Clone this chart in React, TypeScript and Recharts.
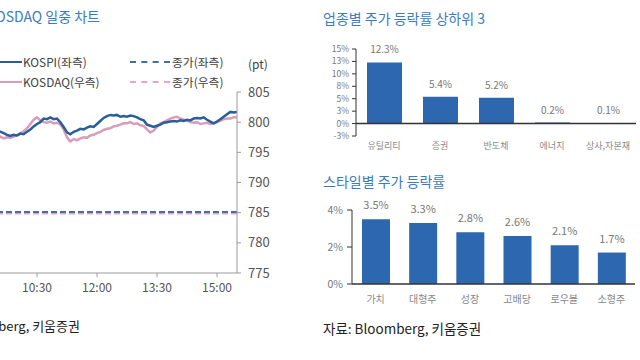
import { LineChart, Line, XAxis, YAxis, ReferenceLine, BarChart, Bar, LabelList } from "recharts";

// intraday, 5-minute steps from 09:00 to 15:30 (right-axis units)
const kospi = [
  797.0, 797.6, 798.2, 798.0, 798.6, 798.9, 798.5, 798.4, 798.2, 797.9,
  797.7, 797.9, 797.8, 798.1, 798.0, 798.4, 798.8, 799.3, 799.7, 800.0,
  800.6, 800.5, 800.8, 800.5, 800.6, 800.0, 799.2, 798.3, 798.0, 798.4,
  798.6, 798.9, 798.8, 799.1, 799.3, 799.2, 799.7, 800.2, 800.7, 801.0,
  801.2, 801.1, 801.2, 800.9, 801.0, 800.9, 801.1, 801.0, 800.8, 800.5,
  800.3, 799.6, 799.4, 799.2, 799.4, 799.6, 799.9, 800.0, 800.1, 800.2,
  800.1, 800.3, 800.2, 800.4, 800.3, 800.6, 800.7, 800.6, 800.8, 800.4,
  800.1, 799.8, 800.1, 800.5, 800.9, 801.3, 801.7, 801.6, 801.7,
];
const kosdaq = [
  796.5, 797.0, 797.8, 797.6, 798.0, 798.3, 797.9, 797.6, 797.3, 797.5,
  797.4, 797.6, 797.8, 798.1, 798.5, 799.0, 799.7, 800.4, 800.8, 800.3,
  800.0, 799.9, 800.1, 799.8, 799.9, 799.6, 798.8, 797.5, 796.8, 797.2,
  797.0, 797.3, 797.5, 797.4, 797.8, 797.9, 798.2, 798.4, 798.7, 798.9,
  799.0, 799.3, 799.4, 799.6, 799.8, 799.8, 800.0, 799.7, 799.8, 799.5,
  799.4, 798.8, 798.3, 798.6, 799.2, 799.8, 800.0, 800.3, 800.6, 800.8,
  800.9, 800.6, 800.4, 800.3, 800.0, 799.9, 800.0, 799.7, 799.8, 799.9,
  799.7, 799.8, 800.0, 800.2, 800.5, 800.6, 800.6, 800.8, 800.8,
];
const kospiClose = 785.1;
const kosdaqClose = 784.9;
const rightTicks = [775, 780, 785, 790, 795, 800, 805];
const timeTicks = ["10:30", "12:00", "13:30", "15:00"];

const sectorNames = ["유틸리티", "증권", "반도체", "에너지", "상사,자본재"];
const sectorValues = [12.3, 5.4, 5.2, 0.2, 0.1];
const sectorTicks = [-2.5, 0, 2.5, 5, 7.5, 10, 12.5, 15];

const styleNames = ["가치", "대형주", "성장", "고배당", "로우볼", "소형주"];
const styleValues = [3.5, 3.3, 2.8, 2.6, 2.1, 1.7];
const styleTicks = [0, 2, 4];

const timeLabel = (i: number) => {
  const m = 540 + i * 5;
  return `${Math.floor(m / 60)}:${String(m % 60).padStart(2, "0")}`;
};
const lineData = kospi.map((v, i) => ({ time: timeLabel(i), kospi: v, kosdaq: kosdaq[i] }));
const sectorData = sectorNames.map((name, i) => ({ name, value: sectorValues[i] }));
const styleData = styleNames.map((name, i) => ({ name, value: styleValues[i] }));

const BLUE = "#2a5d9b";
const PINK = "#d99cb9";
const TITLE = "#3b7cc0";
const BAR = "#2d67b0";
const FONT = '"Noto Sans CJK KR", "Noto Sans", sans-serif';

const pct1 = (v: any) => `${Number(v).toFixed(1)}%`;

export default function App() {
  return (
    <div
      style={{
        position: "fixed",
        left: 0,
        top: 0,
        width: 640,
        height: 360,
        overflow: "hidden",
        background: "#fff",
        fontFamily: FONT,
        color: "#404040",
      }}
    >
      {/* left: intraday chart, cut off on the left side */}
      <div style={{ position: "absolute", left: -300, top: 6, width: 400, textAlign: "right", fontSize: 14, color: TITLE }}>
        KOSPI, KOSDAQ 일중 차트
      </div>

      <div style={{ position: "absolute", left: -20, top: 61, width: 42, borderTop: `2.5px solid ${BLUE}` }} />
      <div style={{ position: "absolute", left: 23, top: 53, fontSize: 11.8 }}>KOSPI(좌측)</div>
      <div style={{ position: "absolute", left: 130, top: 61, width: 40, borderTop: `2.5px dashed #3f6ea8` }} />
      <div style={{ position: "absolute", left: 172, top: 53, fontSize: 11.8 }}>종가(좌측)</div>
      <div style={{ position: "absolute", left: 248, top: 55, fontSize: 12 }}>(pt)</div>

      <div style={{ position: "absolute", left: -20, top: 81, width: 42, borderTop: `2.5px solid ${PINK}` }} />
      <div style={{ position: "absolute", left: 23, top: 73, fontSize: 11.8 }}>KOSDAQ(우측)</div>
      <div style={{ position: "absolute", left: 130, top: 81, width: 40, borderTop: `2.5px dashed #e4a8c5` }} />
      <div style={{ position: "absolute", left: 172, top: 73, fontSize: 11.8 }}>종가(우측)</div>

      <div style={{ position: "absolute", left: -40, top: 0 }}>
        <LineChart width={320} height={303} data={lineData} margin={{ top: 92, right: 3, left: 17, bottom: 0 }}>
          <XAxis
            dataKey="time"
            ticks={timeTicks}
            interval={0}
            height={30}
            tickSize={4}
            tickMargin={6}
            tick={{ fontSize: 12, fill: "#555" }}
            axisLine={{ stroke: "#9a9a9a" }}
            tickLine={{ stroke: "#9a9a9a" }}
          />
          <YAxis
            orientation="right"
            width={40}
            domain={[775, 805]}
            ticks={rightTicks}
            interval={0}
            tickSize={4}
            tickMargin={7}
            tick={{ fontSize: 13, fill: "#555", textAnchor: "start" }}
            axisLine={{ stroke: "#9a9a9a" }}
            tickLine={{ stroke: "#9a9a9a" }}
          />
          <ReferenceLine y={kosdaqClose} stroke="#e4a8c5" strokeWidth={2.5} strokeDasharray="6 3" />
          <ReferenceLine y={kospiClose} stroke="#3f6ea8" strokeWidth={2} strokeDasharray="6 3" />
          <Line dataKey="kosdaq" stroke={PINK} strokeWidth={2.5} dot={false} isAnimationActive={false} />
          <Line dataKey="kospi" stroke={BLUE} strokeWidth={2.5} dot={false} isAnimationActive={false} />
        </LineChart>
      </div>

      <div style={{ position: "absolute", left: -300, top: 316, width: 380, textAlign: "right", fontSize: 13, color: "#222" }}>
        자료: Bloomberg, 키움증권
      </div>

      {/* right top: sector returns */}
      <div style={{ position: "absolute", left: 323, top: 8, fontSize: 14, color: TITLE }}>업종별 주가 등락률 상하위 3</div>
      <div style={{ position: "absolute", left: 300, top: 0 }}>
        <BarChart width={340} height={161} data={sectorData} margin={{ top: 49, right: 4, left: 16, bottom: 0 }}>
          <XAxis
            dataKey="name"
            height={25}
            axisLine={false}
            tickLine={false}
            tickSize={0}
            tickMargin={7}
            tick={{ fontSize: 9, fill: "#888" }}
          />
          <YAxis
            width={40}
            domain={[-2.5, 15]}
            ticks={sectorTicks}
            interval={0}
            tickFormatter={(v: number) => `${v.toFixed(0)}%`}
            tickSize={4}
            tickMargin={3}
            tick={{ fontSize: 8.5, fill: "#777" }}
            axisLine={{ stroke: "#333" }}
            tickLine={{ stroke: "#333" }}
          />
          <ReferenceLine y={0} stroke="#333" strokeWidth={1.5} />
          <Bar dataKey="value" fill={BAR} barSize={35} isAnimationActive={false}>
            <LabelList dataKey="value" position="top" offset={9} formatter={pct1} style={{ fontSize: 10, fill: "#777" }} />
          </Bar>
        </BarChart>
      </div>

      {/* right bottom: style returns */}
      <div style={{ position: "absolute", left: 323, top: 171, fontSize: 14, color: TITLE }}>스타일별 주가 등락률</div>
      <div style={{ position: "absolute", left: 300, top: 160 }}>
        <BarChart width={340} height={154} data={styleData} margin={{ top: 50, right: 5, left: 16, bottom: 0 }}>
          <XAxis
            dataKey="name"
            height={30}
            axisLine={{ stroke: "#333", strokeWidth: 1.5 }}
            tickLine={false}
            tickSize={0}
            tickMargin={12}
            tick={{ fontSize: 10, fill: "#888" }}
          />
          <YAxis
            width={36}
            domain={[0, 4]}
            ticks={styleTicks}
            interval={0}
            tickFormatter={(v: number) => `${v}%`}
            tickSize={5}
            tickMargin={4}
            tick={{ fontSize: 10.5, fill: "#777" }}
            axisLine={{ stroke: "#333" }}
            tickLine={{ stroke: "#333" }}
          />
          <Bar dataKey="value" fill={BAR} barSize={28} isAnimationActive={false}>
            <LabelList dataKey="value" position="top" offset={10} formatter={pct1} style={{ fontSize: 11, fill: "#777" }} />
          </Bar>
        </BarChart>
      </div>
      <div style={{ position: "absolute", left: 323, top: 318, fontSize: 13.5, color: "#222" }}>자료: Bloomberg, 키움증권</div>
    </div>
  );
}
